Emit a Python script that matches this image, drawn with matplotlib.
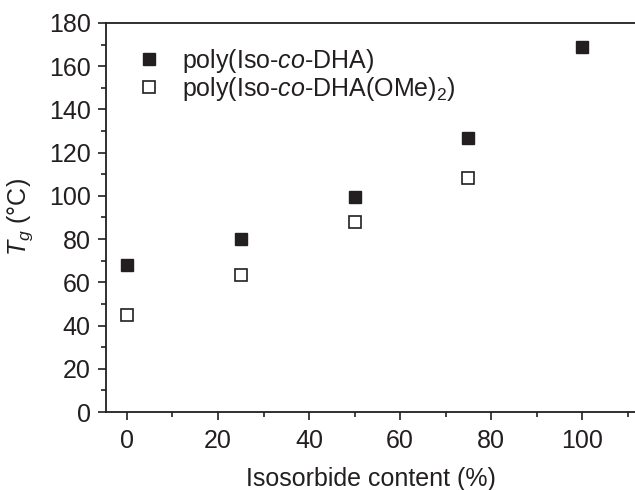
import matplotlib
matplotlib.use("Agg")
import matplotlib.pyplot as plt
from matplotlib.ticker import MultipleLocator

plt.rcParams['font.family'] = ['Liberation Sans', 'DejaVu Sans']
plt.rcParams['mathtext.fontset'] = 'custom'
plt.rcParams['mathtext.rm'] = 'Liberation Sans'
plt.rcParams['mathtext.it'] = 'Liberation Sans:italic'
plt.rcParams['mathtext.bf'] = 'Liberation Sans:bold'

ink = '#231f20'

content = [0, 25, 50, 75, 100]
tg_dha = [68, 80, 99.5, 127, 169]
content_ome = [0, 25, 50, 75]
tg_ome = [45, 63.5, 88, 108.5]
labels = ['poly(Iso-$co$-DHA)', 'poly(Iso-$co$-DHA(OMe)$_2$)']

fig = plt.figure(figsize=(6.35, 4.9), dpi=100)
ax = fig.add_axes([106/635, 1-412/490, 1-106/635, (412-23)/490])

ax.plot(content, tg_dha, linestyle='none', marker='s', markersize=8.5,
        color=ink, markerfacecolor=ink, markeredgecolor=ink, label=labels[0])
ax.plot(content_ome, tg_ome, linestyle='none', marker='s', markersize=8,
        markerfacecolor='white', markeredgecolor=ink, markeredgewidth=1.2, label=labels[1])

ax.set_xlim(-4.6, 111.6)
ax.set_ylim(0, 180)
ax.xaxis.set_major_locator(MultipleLocator(20))
ax.xaxis.set_minor_locator(MultipleLocator(10))
ax.yaxis.set_major_locator(MultipleLocator(20))
ax.yaxis.set_minor_locator(MultipleLocator(10))

ax.spines['right'].set_visible(False)
for s in ['left', 'bottom', 'top']:
    ax.spines[s].set_linewidth(1.3)
    ax.spines[s].set_color(ink)

ax.tick_params(axis='both', which='major', direction='out', length=6, width=1.2,
               labelsize=18, colors=ink)
ax.tick_params(axis='x', which='major', pad=6)
ax.tick_params(axis='y', which='major', pad=5)
ax.tick_params(axis='both', which='minor', direction='out', length=3.5, width=1.2, colors=ink)
ax.tick_params(top=False, right=False, which='both')

ax.set_xlabel('Isosorbide content (%)', fontsize=18, color=ink, labelpad=10)
ax.set_ylabel('$T_g$ (°C)', fontsize=18, color=ink, labelpad=10)

leg = ax.legend(loc='upper left', bbox_to_anchor=(0.038, 0.965), frameon=False,
                fontsize=18, handletextpad=0.83, labelspacing=0.0, handlelength=1.0,
                borderaxespad=0)
for t in leg.get_texts():
    t.set_color(ink)

fig.savefig('out.png', dpi=100)
